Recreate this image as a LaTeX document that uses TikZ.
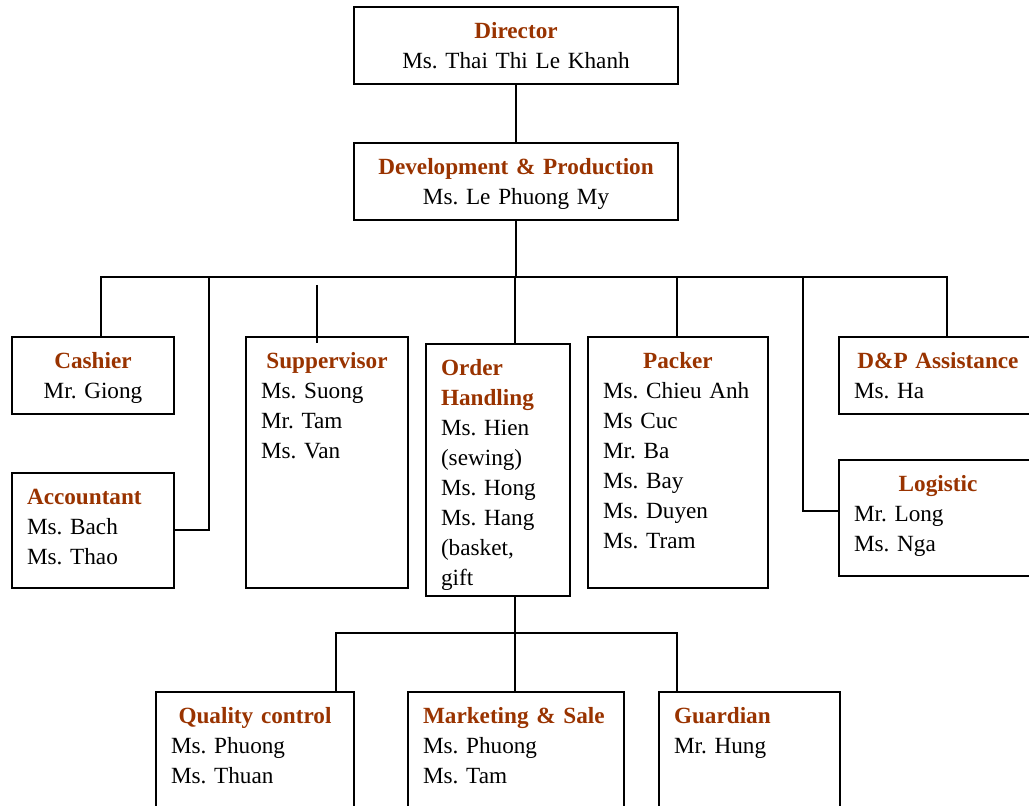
\documentclass[tikz,border=0pt]{standalone}
\usepackage{xcolor}
\usepackage{fontspec}
\setmainfont{Liberation Serif}
\usepackage{tikz}
\usetikzlibrary{positioning,calc}
\definecolor{titlebrown}{HTML}{993300}
\newcommand{\ttl}[1]{\textcolor{titlebrown}{\textbf{#1}}}
\newcommand{\cttl}[1]{\makebox[\linewidth]{\ttl{#1}}}
\tikzset{unit/.style={draw, line width=1pt, anchor=north west,
  inner xsep=7.5pt, inner ysep=6pt, text height=10pt,
  font=\fontsize{11.6}{15}\selectfont\frenchspacing}}
\tikzset{link/.style={line width=1pt}}

\begin{document}
\begin{tikzpicture}[x=0.5pt,y=-0.5pt]
\useasboundingbox (0,0) rectangle (1029,806);
\clip (0,0) rectangle (1029,806);

\node[unit, align=center, text width=147pt, text depth=16.5pt] (director) at (353,6)
{\ttl{Director}\\ Ms. Thai Thi Le Khanh};
\node[unit, align=center, text width=147pt, text depth=16.5pt] (dev) at (353,142)
{\ttl{Development \& Production}\\ Ms. Le Phuong My};

\node[unit, align=center, text width=66pt, text depth=16.5pt] (cashier) at (11,336)
{\ttl{Cashier}\\ Mr. Giong};
\node[unit, align=left, text width=66pt, text depth=35.5pt] (accountant) at (11,472)
{\ttl{Accountant}\\ Ms. Bach\\ Ms. Thao};
\node[unit, align=left, text width=66pt, text depth=103.5pt] (supervisor) at (245,336)
{\cttl{Suppervisor}\\ Ms. Suong\\ Mr. Tam\\ Ms. Van};
\node[unit, align=left, text width=57pt, text depth=104pt] (order) at (425,343)
{\ttl{Order}\\ \ttl{Handling}\\ Ms. Hien\\ (sewing)\\ Ms. Hong\\ Ms. Hang\\ (basket,\\ gift};
\node[unit, align=left, text width=75pt, text depth=103.5pt] (packer) at (587,336)
{\cttl{Packer}\\ Ms. Chieu Anh\\ Ms Cuc\\ Mr. Ba\\ Ms. Bay\\ Ms. Duyen\\ Ms. Tram};
\node[unit, align=left, text width=84pt, text depth=16.5pt] (assist) at (838,336)
{\cttl{D\&P Assistance}\\ Ms. Ha};
\node[unit, align=left, text width=84pt, text depth=36pt] (logistic) at (838,459)
{\cttl{Logistic}\\ Mr. Long\\ Ms. Nga};

\node[unit, align=left, text width=84pt, text depth=48pt] (quality) at (155,691)
{\cttl{Quality control}\\ Ms. Phuong\\ Ms. Thuan};
\node[unit, align=left, text width=93pt, text depth=48pt] (marketing) at (407,691)
{\ttl{Marketing \& Sale}\\ Ms. Phuong\\ Ms. Tam};
\node[unit, align=left, text width=75.5pt, text depth=48pt] (guardian) at (658,691)
{\ttl{Guardian}\\ Mr. Hung};

% upper bus
\coordinate (topbus) at (515,277);
\coordinate (b-cash) at (101,277);
\coordinate (b-acc) at (209,277);
\coordinate (b-pack) at (677,277);
\coordinate (b-log) at (803,277);
\coordinate (b-assist) at (947,277);
\coordinate (s-stub) at (317,285);

\draw[link] (director.south) -- (dev.north);
\draw[link] (dev.south) -- (dev.south |- topbus);
\draw[link] (b-cash |- cashier.north) -- (b-cash) -- (b-assist) -- (b-assist |- assist.north);
\draw[link] (b-acc) |- (accountant.east);
\draw[link] (s-stub) -- (s-stub |- order.north);
\draw[link] (topbus) -- (topbus |- order.north);
\draw[link] (b-pack) -- (b-pack |- packer.north);
\draw[link] (b-log) |- ([yshift=3.5pt]logistic.west);

% lower bus
\coordinate (l-mid) at (515,633);
\coordinate (l-qc) at (336,633);
\coordinate (l-guard) at (677,633);

\draw[link] (l-mid |- order.south) -- (l-mid);
\draw[link] (l-qc |- quality.north) -- (l-qc) -- (l-guard) -- (l-guard |- guardian.north);
\draw[link] (l-mid) -- (l-mid |- marketing.north);

\end{tikzpicture}
\end{document}
